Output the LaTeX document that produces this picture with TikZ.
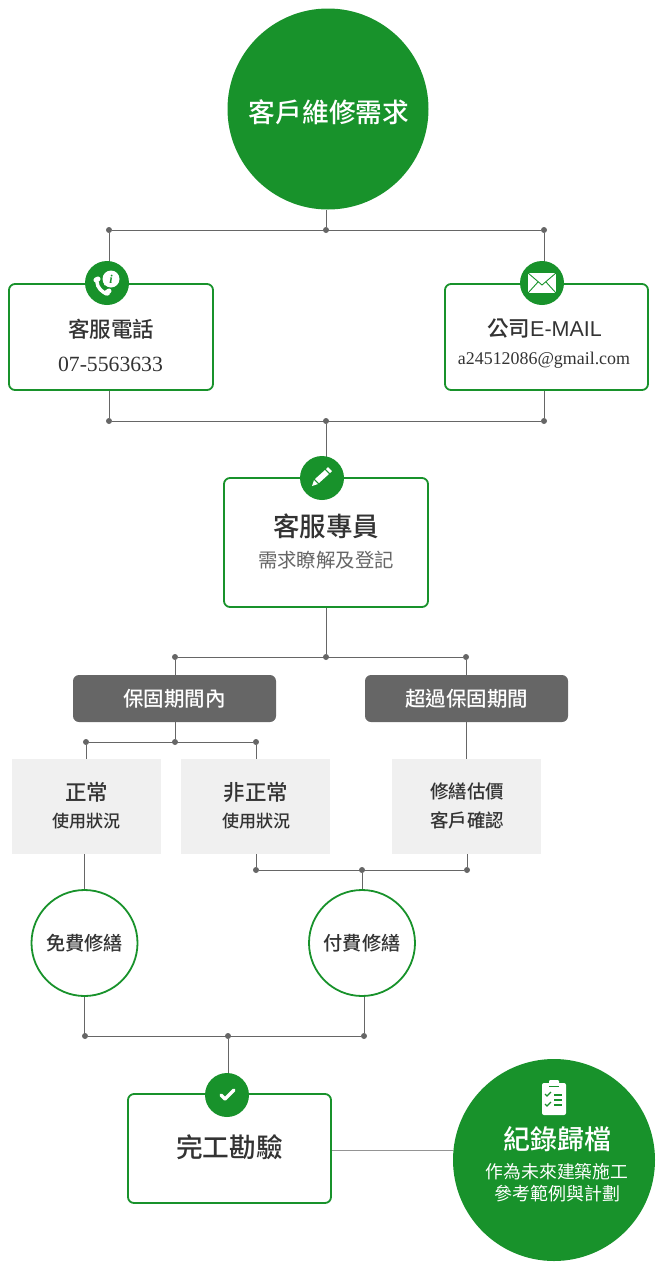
\documentclass[tikz,border=0pt]{standalone}
\usepackage{fontspec}
\setmainfont{Noto Sans CJK TC}
\newfontfamily\medfont{Noto Sans CJK TC Medium}
\newfontfamily\timesfont{Liberation Serif}
\newfontfamily\arialfont{Liberation Sans}
\usepackage{tikz}
\definecolor{leaf}{HTML}{18922B}
\definecolor{wire}{HTML}{666666}
\definecolor{ink}{HTML}{333333}
\definecolor{pale}{HTML}{F0F0F0}

\begin{document}
\begin{tikzpicture}[x=1pt, y=-1pt,
    jdot/.style = {circle, fill=wire, inner sep=0pt, minimum size=6pt},
    wireline/.style = {draw=wire, line width=1pt},
    greenbox/.style = {draw=leaf, line width=1.8pt, fill=white, rounded corners=6pt, inner sep=0pt},
    greybox/.style = {fill=wire, rounded corners=6pt, inner sep=0pt, minimum width=203pt, minimum height=47pt, text=white, font=\medfont\fontsize{20.5}{24}\selectfont},
    palebox/.style = {fill=pale, inner sep=0pt, minimum width=149pt, minimum height=95pt},
    bigdisc/.style = {circle, fill=leaf, inner sep=0pt},
    ringdisc/.style = {circle, draw=leaf, line width=1.8pt, fill=white, inner sep=0pt, minimum size=106pt, text=ink, font=\medfont\fontsize{19.2}{23}\selectfont},
    icondisc/.style = {circle, fill=leaf, inner sep=0pt, minimum size=44pt},
    boxtitle/.style = {text=ink, inner sep=0pt, font=\medfont\fontsize{21.5}{25}\selectfont},
    boxsub/.style = {text=ink, inner sep=0pt, font=\medfont\fontsize{17}{21}\selectfont}]
  \useasboundingbox (0,0) rectangle (662,1266);

  \node[bigdisc, minimum size=201pt] (root) at (328,109) {};
  \node[text=white, inner sep=0pt, font=\medfont\fontsize{26.7}{32}\selectfont] (rootlabel) at (329,112) {客戶維修需求};

  \node[jdot] (ja1) at (109,230) {};
  \node[jdot] (ja2) at (326,230) {};
  \node[jdot] (ja3) at (544,230) {};
  \node[greenbox, minimum width=204pt, minimum height=106pt] (phone) at (111,337) {};
  \node[greenbox, minimum width=203pt, minimum height=106pt] (mail) at (546.5,337) {};
  \node[jdot] (jb1) at (109,421) {};
  \node[jdot] (jb2) at (326,421) {};
  \node[jdot] (jb3) at (544,421) {};
  \node[greenbox, minimum width=204pt, minimum height=129pt] (staff) at (326,542.5) {};
  \node[jdot] (jc1) at (175,657) {};
  \node[jdot] (jc2) at (326,657) {};
  \node[jdot] (jc3) at (466,657) {};
  \node[greybox] (inside) at (174.5,698.5) {保固期間內};
  \node[greybox] (over) at (466.5,698.5) {超過保固期間};
  \node[jdot] (jd1) at (86,742) {};
  \node[jdot] (jd2) at (175,742) {};
  \node[jdot] (jd3) at (256,742) {};
  \node[palebox] (normal) at (86.5,806.5) {};
  \node[palebox] (abnormal) at (255.5,806.5) {};
  \node[palebox] (quote) at (466.5,806.5) {};
  \node[jdot] (je1) at (256,870) {};
  \node[jdot] (je2) at (362,870) {};
  \node[jdot] (je3) at (467,870) {};
  \node[ringdisc] (free) at (84.5,943) {免費修繕};
  \node[ringdisc] (paid) at (362,943) {付費修繕};
  \node[jdot] (jf1) at (85,1036) {};
  \node[jdot] (jf2) at (228,1036) {};
  \node[jdot] (jf3) at (364,1036) {};
  \node[greenbox, minimum width=203pt, minimum height=109pt] (done) at (229.5,1148.5) {};
  \node[bigdisc, minimum size=202pt] (archive) at (554,1160) {};

  \draw[wireline] (ja2 |- root.south) -- (ja2);
  \draw[wireline] (ja1) -- (ja3);
  \draw[wireline] (ja1) -- (ja1 |- phone.north);
  \draw[wireline] (ja3) -- (ja3 |- mail.north);
  \draw[wireline] (jb1 |- phone.south) -- (jb1);
  \draw[wireline] (jb3 |- mail.south) -- (jb3);
  \draw[wireline] (jb1) -- (jb3);
  \draw[wireline] (jb2) -- (staff.north);
  \draw[wireline] (staff) -- (jc2);
  \draw[wireline] (jc1) -- (jc3);
  \draw[wireline] (jc1) -- (jc1 |- inside.north);
  \draw[wireline] (jc3) -- (jc3 |- over.north);
  \draw[wireline] (jd2 |- inside.south) -- (jd2);
  \draw[wireline] (jd1) -- (jd3);
  \draw[wireline] (jd1) -- (jd1 |- normal.north);
  \draw[wireline] (jd3) -- (jd3 |- abnormal.north);
  \draw[wireline] (jc3 |- over.south) -- (jc3 |- quote.north);
  \draw[wireline] (je1 |- abnormal.south) -- (je1);
  \draw[wireline] (je3 |- quote.south) -- (je3);
  \draw[wireline] (je1) -- (je3);
  \draw[wireline] (je2) -- (paid);
  \draw[wireline] (free.north |- normal.south) -- (free);
  \draw[wireline] (free) -- (free |- jf1);
  \draw[wireline] (paid.south -| jf3) -- (jf3);
  \draw[wireline] (jf1) -- (jf3);
  \draw[wireline] (jf2) -- (jf2 |- done.north);
  \draw[wireline, draw=wire!70] (done.east |- 0,1150) -- (archive.west |- 0,1150);

  \node[icondisc] (icphone) at (107,283) {};
  \node[icondisc] (icmail) at (542,283) {};
  \node[icondisc] (icstaff) at (322,478) {};
  \node[icondisc] (icdone) at (227,1095) {};

  \begin{scope}[shift={(icphone)}]
    \draw[white, line width=3.5pt, line cap=round] (-10,-1) .. controls (-10,4) and (-5,10) .. (1,11);
    \draw[white, line width=5pt, line cap=round] (-11,-3) -- (-9,-4);
    \draw[white, line width=5pt, line cap=round] (-1,10) -- (2,8);
    \fill[white] (4,-4) circle (8.5pt);
    \fill[white] (-3,2) -- (0,-3) -- (1,2) -- cycle;
    \node[text=leaf, inner sep=0pt, font=\timesfont\bfseries\itshape\fontsize{12}{12}\selectfont] (iinfo) at (4,-4) {i};
  \end{scope}
  \begin{scope}[shift={(icmail)}]
    \fill[white] (-14,-10) rectangle (14,10);
    \draw[leaf, line width=0.9pt] (-14,-10) -- (0,2) -- (14,-10);
    \draw[leaf, line width=0.9pt] (-14,10) -- (-4,-1);
    \draw[leaf, line width=0.9pt] (14,10) -- (4,-1);
  \end{scope}
  \begin{scope}[shift={(icstaff)}]
    \fill[white] (-10,8) -- (-8,2) -- (-4,6) -- cycle;
    \fill[white] (-7,1) -- (3,-8) -- (7,-4) -- (-3,5) -- cycle;
    \fill[white] (4,-9) -- (6,-11) -- (10,-7) -- (8,-5) -- cycle;
  \end{scope}
  \begin{scope}[shift={(icdone)}]
    \draw[white, line width=3.5pt, line cap=round, line join=round] (-6,0) -- (-2,4) -- (7,-5);
  \end{scope}
  \begin{scope}[shift={(554,1097)}]
    \fill[white, rounded corners=2pt] (-12,-14) rectangle (12,18);
    \fill[white, rounded corners=1pt] (-5,-17) rectangle (5,-11);
    \draw[leaf, line width=0.9pt] (-5,-11) -- (5,-11);
    \draw[leaf, line width=1.3pt] (-9,-3) -- (-7,-1) -- (-3,-5);
    \draw[leaf, line width=1.3pt] (-9,7) -- (-7,9) -- (-3,5);
    \draw[leaf, line width=1.5pt] (0,-2) -- (8,-2);
    \draw[leaf, line width=1.5pt] (0,3) -- (8,3);
    \draw[leaf, line width=1.5pt] (0,8) -- (8,8);
  \end{scope}

  \node[boxtitle] (phonetitle) at (111,329) {客服電話};
  \node[text=ink, inner sep=0pt, font=\timesfont\fontsize{21.7}{26}\selectfont] (phonenum) at (110.5,364) {07-5563633};
  \node[boxtitle] (mailtitle) at (544.5,329) {公司{\arialfont E-MAIL}};
  \node[text=ink, inner sep=0pt, font=\timesfont\fontsize{17.9}{22}\selectfont] (mailaddr) at (544,360) {a24512086@gmail.com};
  \node[boxtitle, font=\medfont\fontsize{26.5}{32}\selectfont] (stafftitle) at (326,526) {客服專員};
  \node[text=wire, inner sep=0pt, font=\fontsize{19.4}{24}\selectfont] (staffsub) at (326,560) {需求瞭解及登記};
  \node[boxtitle] (normaltitle) at (86.5,792) {正常};
  \node[boxsub] (normalsub) at (86,821) {使用狀況};
  \node[boxtitle] (abnormaltitle) at (256,792) {非正常};
  \node[boxsub] (abnormalsub) at (256,821) {使用狀況};
  \node[boxsub, font=\medfont\fontsize{18.5}{22}\selectfont] (quotetitle) at (467,791) {修繕估價};
  \node[boxsub, font=\medfont\fontsize{18.5}{22}\selectfont] (quotesub) at (467,820) {客戶確認};
  \node[boxtitle, font=\medfont\fontsize{26.7}{32}\selectfont] (donetitle) at (229.5,1147) {完工勘驗};
  \node[text=white, inner sep=0pt, font=\medfont\fontsize{27}{32}\selectfont] (archivetitle) at (557.5,1139) {紀錄歸檔};
  \node[text=white, inner sep=0pt, font=\fontsize{17.8}{22}\selectfont] (archivesub) at (557,1172) {作為未來建築施工};
  \node[text=white, inner sep=0pt, font=\fontsize{18}{22}\selectfont] (archivesubb) at (557,1194) {參考範例與計劃};
\end{tikzpicture}
\end{document}
